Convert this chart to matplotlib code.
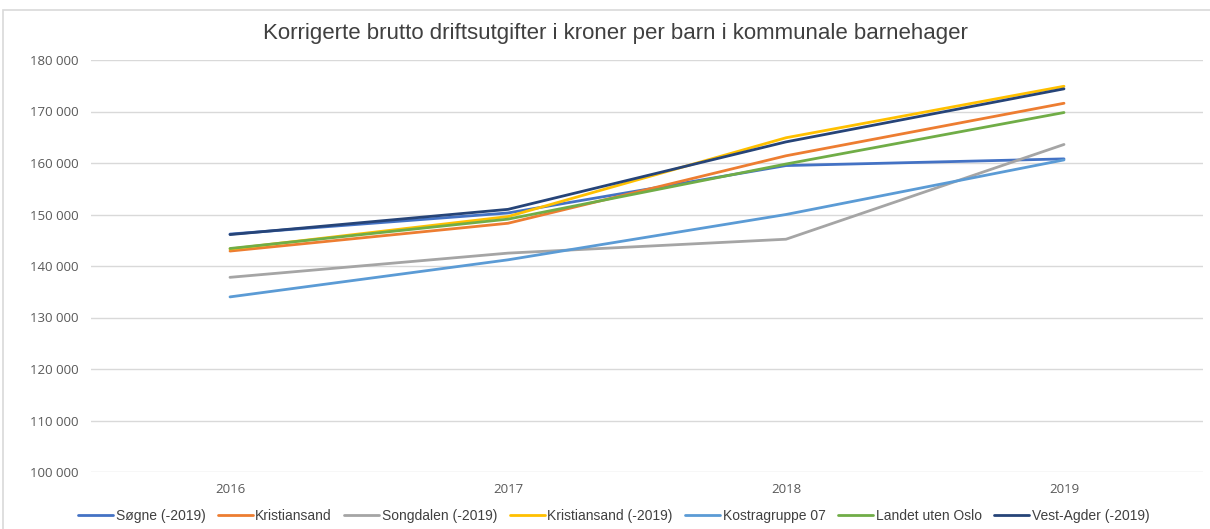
import matplotlib.pyplot as plt
from matplotlib.patches import Rectangle
from matplotlib.ticker import FuncFormatter

years = ['2016', '2017', '2018', '2019']
sogne = [146200, 150300, 159500, 160800]
kristiansand = [142900, 148300, 161400, 171600]
songdalen = [137800, 142500, 145200, 163600]
kristiansand_old = [143300, 149600, 164900, 174900]
kostra07 = [134000, 141200, 150000, 160600]
landet = [143400, 149100, 159800, 169800]
vest_agder = [146100, 151000, 164100, 174400]

series = [
    ('Søgne (-2019)', sogne, '#4472C4'),
    ('Kristiansand', kristiansand, '#ED7D31'),
    ('Songdalen (-2019)', songdalen, '#A5A5A5'),
    ('Kristiansand (-2019)', kristiansand_old, '#FFC000'),
    ('Kostragruppe 07', kostra07, '#5B9BD5'),
    ('Landet uten Oslo', landet, '#70AD47'),
    ('Vest-Agder (-2019)', vest_agder, '#264478'),
]

plt.rcParams['font.family'] = ['Liberation Sans Narrow', 'Liberation Sans', 'DejaVu Sans']

fig = plt.figure(figsize=(12.1, 5.29), dpi=100)
ax = fig.add_axes([91/1210, 1 - 472/529, (1203 - 91)/1210, (472 - 60)/529])

# outer chart frame
fig.patches.append(Rectangle((3/1210, -0.1), 1.2, 1 - 10/529 + 0.1, transform=fig.transFigure,
                             fill=False, edgecolor='#D9D9D9', linewidth=1.2))

x = list(range(len(years)))
for name, vals, col in series:
    ax.plot(x, vals, color=col, linewidth=2.0, label=name, solid_capstyle='round')

ax.set_xlim(-0.5, 3.5)
ax.set_ylim(100000, 180000)
ax.set_yticks(range(100000, 180001, 10000))
ax.yaxis.set_major_formatter(FuncFormatter(lambda v, p: f'{int(v):,}'.replace(',', ' ')))
ax.set_xticks(x)
ax.set_xticklabels(years)
ax.grid(axis='y', color='#D9D9D9', linewidth=1)
ax.set_axisbelow(True)
for s in ax.spines.values():
    s.set_visible(False)
ax.tick_params(length=0, colors='#595959')
ax.tick_params(axis='x', pad=8)
ax.tick_params(axis='y', pad=9)
for lab in ax.get_yticklabels() + ax.get_xticklabels():
    lab.set_fontfamily(['Open Sans', 'DejaVu Sans'])
    lab.set_fontsize(9.5)

fig.text(615/1210, 1 - 33/529, 'Korrigerte brutto driftsutgifter i kroner per barn i kommunale barnehager',
         ha='center', va='center', fontsize=16, color='#404040')

ax.legend(loc='center', bbox_to_anchor=(0.47, (1 - 516/529 - (1 - 472/529)) / ((472 - 60)/529)),
          bbox_transform=ax.transAxes, ncol=7, frameon=False, fontsize=10,
          handlelength=2.5, handletextpad=0.2, columnspacing=0.9, labelcolor='#404040')

fig.savefig('out.png', dpi=100)
